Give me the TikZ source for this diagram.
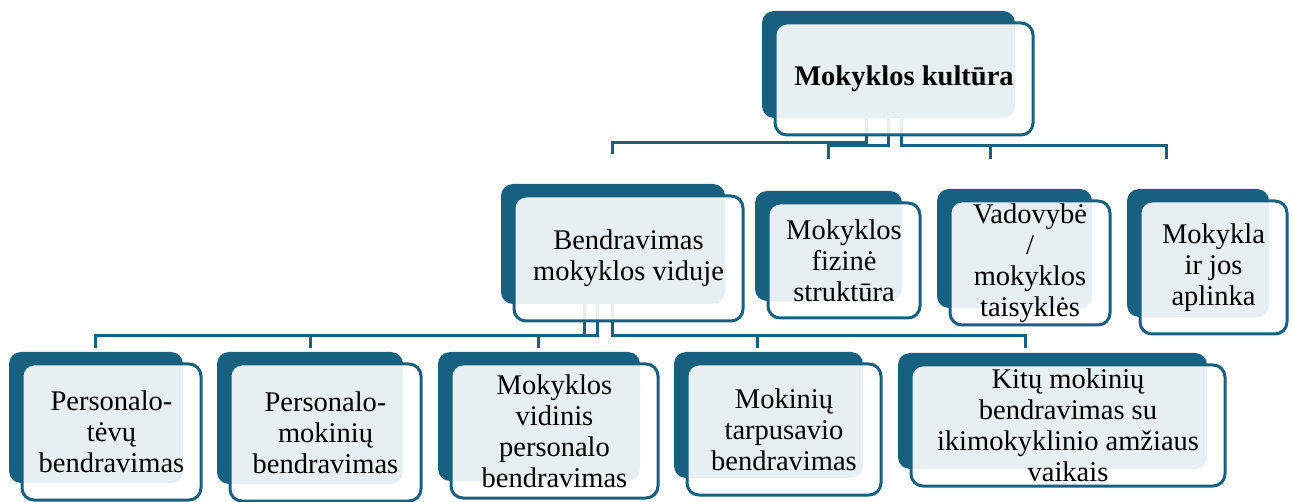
\documentclass[tikz,border=0pt]{standalone}
\usepackage{fontspec}
\setmainfont{Liberation Serif}
\usetikzlibrary{backgrounds}
\definecolor{smartblue}{HTML}{186080}
\tikzset{
  % card = front box, the blue backbox shows through it
  card/.style={draw=smartblue, line width=3pt, rounded corners=12pt,
  fill=white, fill opacity=0.9, text opacity=1,
  align=center, outer sep=0pt, inner sep=0pt,
  font=\fontsize{28.5}{31}\selectfont},
  backbox/.style={fill=smartblue, rounded corners=12pt},
  conn/.style={draw=smartblue, line width=3pt}}

\begin{document}
\begin{tikzpicture}[x=1pt, y=-1pt]
\useasboundingbox (0,0) rectangle (1293,502);

% top
\node (kult) [card, minimum width=258pt, minimum height=112pt] at (904,79) {\textbf{Mokyklos kultūra}};

% first level
\node (vidus) [card, minimum width=229pt, minimum height=125pt] at (628.5,258.5) {Bendravimas\\mokyklos viduje};
\node (fiz) [card, minimum width=152pt, minimum height=115pt] at (844,260.5) {Mokyklos\\fizinė\\struktūra};
\node (vad) [card, minimum width=160pt, minimum height=124pt] at (1030,263) {Vadovybė\\/\\mokyklos\\taisyklės};
\node (apl) [card, minimum width=147pt, minimum height=133pt] at (1213.5,267.5) {Mokykla\\ir jos\\aplinka};

% second level
\node (tev) [card, minimum width=179pt, minimum height=136pt] at (111.5,432) {Personalo-\\tėvų\\bendravimas};
\node (mok) [card, minimum width=191pt, minimum height=137pt] at (325.5,432.5) {Personalo-\\mokinių\\bendravimas};
\node (pers) [card, minimum width=207pt, minimum height=134pt] at (554.5,431) {Mokyklos\\vidinis\\personalo\\bendravimas};
\node (tarp) [card, minimum width=194pt, minimum height=131pt] at (784,429.5) {Mokinių\\tarpusavio\\bendravimas};
\node (kit) [card, minimum width=314pt, minimum height=121pt] at (1068,425.5) {Kitų mokinių\\bendravimas su\\ikimokyklinio amžiaus\\vaikais};

% stub ends above the boxes
\path ([xshift=-16.5pt, yshift=42pt]vidus.north) coordinate (vidus-in);
\path ([xshift=-16pt, yshift=44pt]fiz.north) coordinate (fiz-in);
\path ([xshift=-40pt, yshift=42pt]vad.north) coordinate (vad-in);
\path ([xshift=-47.5pt, yshift=42pt]apl.north) coordinate (apl-in);
\path ([xshift=-16.5pt, yshift=16pt]tev.north) coordinate (tev-in);
\path ([xshift=-15.5pt, yshift=16pt]mok.north) coordinate (mok-in);
\path ([xshift=-16.5pt, yshift=16pt]pers.north) coordinate (pers-in);
\path ([xshift=-27pt, yshift=16pt]tarp.north) coordinate (tarp-in);
\path ([xshift=-43pt, yshift=17pt]kit.north) coordinate (kit-in);

\begin{pgfonlayer}{background}
\draw [conn] ([xshift=-38pt]kult.center) |- ([yshift=11pt]vidus-in) -- (vidus-in);
\draw [conn] ([xshift=-16pt]kult.center) |- ([yshift=13pt]fiz-in) -- (fiz-in);
\draw [conn] ([xshift=-3pt]kult.center) |- ([yshift=13pt]vad-in) -- (vad-in);
\draw [conn] ([xshift=-3pt]kult.center) |- ([yshift=13pt]apl-in) -- (apl-in);

\draw [conn] ([xshift=-44.5pt]vidus.center) |- ([yshift=12pt]tev-in) -- (tev-in);
\draw [conn] ([xshift=-44.5pt]vidus.center) |- ([yshift=12pt]mok-in) -- (mok-in);
\draw [conn] ([xshift=-31.5pt]vidus.center) |- ([yshift=12pt]pers-in) -- (pers-in);
\draw [conn] ([xshift=-16.5pt]vidus.center) |- ([yshift=12pt]tarp-in) -- (tarp-in);
\draw [conn] ([xshift=-16.5pt]vidus.center) |- ([yshift=12pt]kit-in) -- (kit-in);

\fill [backbox] ([xshift=-13pt, yshift=12pt]kult.north west) rectangle ([xshift=-18pt, yshift=17pt]kult.south east);
\fill [backbox] ([xshift=-13pt, yshift=12pt]vidus.north west) rectangle ([xshift=-18pt, yshift=17pt]vidus.south east);
\fill [backbox] ([xshift=-13pt, yshift=12pt]fiz.north west) rectangle ([xshift=-18pt, yshift=17pt]fiz.south east);
\fill [backbox] ([xshift=-13pt, yshift=12pt]vad.north west) rectangle ([xshift=-18pt, yshift=17pt]vad.south east);
\fill [backbox] ([xshift=-13pt, yshift=12pt]apl.north west) rectangle ([xshift=-18pt, yshift=17pt]apl.south east);
\fill [backbox] ([xshift=-13pt, yshift=12pt]tev.north west) rectangle ([xshift=-18pt, yshift=17pt]tev.south east);
\fill [backbox] ([xshift=-13pt, yshift=12pt]mok.north west) rectangle ([xshift=-18pt, yshift=17pt]mok.south east);
\fill [backbox] ([xshift=-13pt, yshift=12pt]pers.north west) rectangle ([xshift=-18pt, yshift=17pt]pers.south east);
\fill [backbox] ([xshift=-13pt, yshift=12pt]tarp.north west) rectangle ([xshift=-18pt, yshift=17pt]tarp.south east);
\fill [backbox] ([xshift=-13pt, yshift=12pt]kit.north west) rectangle ([xshift=-18pt, yshift=17pt]kit.south east);
\end{pgfonlayer}

\end{tikzpicture}
\end{document}
